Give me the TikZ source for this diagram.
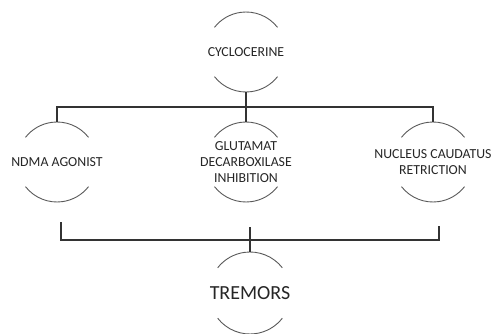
\documentclass[tikz,border=0pt]{standalone}
\usepackage{fontspec}
\setmainfont{Carlito}
\usepackage{tikz}

\begin{document}
\begin{tikzpicture}[x=1pt, y=1pt,
	concept/.style={align=center, text=black!85, inner sep=0pt, font=\fontsize{13.8}{15.8}\selectfont},
	result/.style={concept, font=\fontsize{20}{23}\selectfont},
	link/.style={black!80, line width=1.1pt},
	arcline/.style={black!65, line width=0.9pt}]
	\useasboundingbox (0,0) rectangle (492,-334);
	
	% Ausgangsstoff
	\node[concept] (cyc) at (246,-52) {CYCLOCERINE};
	
	% Wirkungen
	\node[concept] (ndma) at (57,-162) {NDMA AGONIST};
	\node[concept] (glu) at (246,-162) {GLUTAMAT\\DECARBOXILASE\\INHIBITION};
	\node[concept] (nuc) at (433,-162) {NUCLEUS CAUDATUS\\RETRICTION};
	
	% Folge
	\node[result] (trem) at (250,-293) {TREMORS};
	
	% Halbkreise um die Texte
	\foreach \n/\r in {cyc/40, ndma/40, glu/40, nuc/40, trem/41} {
		\draw[arcline] ([shift={(38:\r)}]\n.center) arc[start angle=38, end angle=142, radius=\r];
		\draw[arcline] ([shift={(218:\r)}]\n.center) arc[start angle=218, end angle=322, radius=\r];
	}
	
	% obere Verzweigung
	\coordinate (topbar) at (246,-107);
	\draw[link] ([yshift=-40]cyc.center) -- (topbar);
	\draw[link] ([yshift=40]ndma.center) |- (topbar) -| ([yshift=40]nuc.center);
	\draw[link] (topbar) -- ([yshift=40]glu.center);
	
	% untere Klammer
	\coordinate (bl) at (61,-222);
	\coordinate (br) at (439,-226);
	\coordinate (botbar) at (250,-240);
	\coordinate (bstem) at (250,-227);
	\draw[link] (bl) |- (botbar) -| (br);
	\draw[link] (bstem) -- ([yshift=41]trem.center);
\end{tikzpicture}
\end{document}
